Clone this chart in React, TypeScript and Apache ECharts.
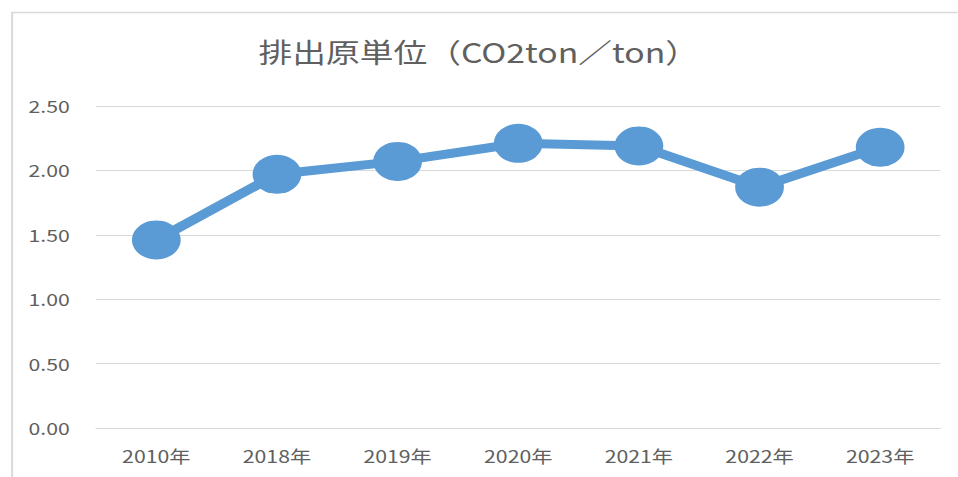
import React, { useEffect, useRef } from "react";
import * as echarts from "echarts";

const categories = ["2010年", "2018年", "2019年", "2020年", "2021年", "2022年", "2023年"];
const values = [1.46, 1.97, 2.07, 2.21, 2.19, 1.87, 2.18];
const titleText = "排出原単位（CO2ton／ton）";
const yMin = 0;
const yMax = 2.5;
const yInterval = 0.5;

const STRETCH = 1.25;
const PAGE_W = 958;
const PAGE_H = 477;
const W = PAGE_W / STRETCH;

export default function App() {
  const ref = useRef<HTMLDivElement>(null);
  useEffect(() => {
    document.body.style.margin = "0";
    const chart = echarts.init(ref.current!, null, { renderer: "svg" });
    const font = "'Noto Sans CJK JP', 'Noto Sans', sans-serif";
    chart.setOption({
      animation: false,
      backgroundColor: "#ffffff",
      title: {
        text: titleText,
        left: "center",
        top: 33,
        textStyle: { fontFamily: font, fontSize: 27, fontWeight: "normal", color: "#606060" },
      },
      graphic: [
        {
          type: "rect",
          left: 9 / STRETCH,
          top: 10,
          shape: { width: 2000, height: 1000 },
          style: { fill: "none", stroke: "#d9d9d9", lineWidth: 1.6 },
          silent: true,
        },
      ],
      grid: { left: 96 / STRETCH, right: W - 941 / STRETCH, top: 106, bottom: PAGE_H - 428 },
      xAxis: {
        type: "category",
        data: categories,
        boundaryGap: true,
        axisLine: { show: true, lineStyle: { color: "#d9d9d9", width: 1 } },
        axisTick: { show: false },
        axisLabel: { fontFamily: font, fontSize: 17, color: "#606060", margin: 19 },
      },
      yAxis: {
        type: "value",
        min: yMin,
        max: yMax,
        interval: yInterval,
        axisLine: { show: false },
        axisTick: { show: false },
        splitLine: { lineStyle: { color: "#d9d9d9", width: 1 } },
        axisLabel: {
          fontFamily: font,
          fontSize: 17,
          color: "#606060",
          margin: 21,
          formatter: (v: number) => v.toFixed(2),
        },
      },
      series: [
        {
          type: "line",
          data: values,
          symbol: "circle",
          symbolSize: 39,
          lineStyle: { color: "#5b9bd5", width: 9 },
          itemStyle: { color: "#5b9bd5" },
        },
      ],
    });
    return () => chart.dispose();
  }, []);
  return (
    <div style={{ position: "absolute", left: 0, top: 0, width: PAGE_W, height: PAGE_H, overflow: "hidden", background: "#fff" }}>
      <div
        ref={ref}
        style={{ width: W, height: PAGE_H, transform: `scaleX(${STRETCH})`, transformOrigin: "0 0" }}
      />
    </div>
  );
}
